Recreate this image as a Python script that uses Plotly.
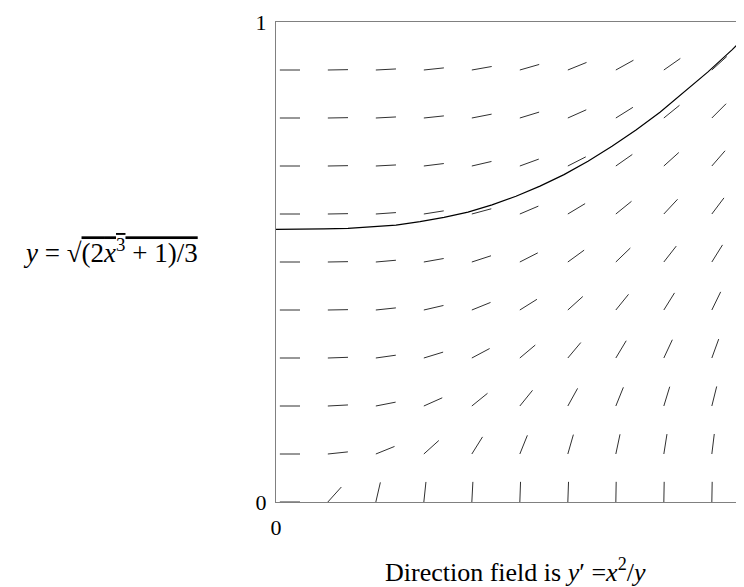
import math
import plotly.graph_objects as go

# grid of direction-field segments (start points)
grid_x = [0.008, 0.108, 0.208, 0.308, 0.408, 0.508, 0.608, 0.708, 0.808, 0.908]
grid_y = [0.0, 0.1, 0.2, 0.3, 0.4, 0.5, 0.6, 0.7, 0.8, 0.9]

# segment angles in degrees, one row per grid_y value
seg_angles = [
    [0, 48, 77, 84, 87, 88, 88, 89, 89, 89],
    [0, 6, 22, 42, 58, 68, 74, 78, 81, 83],
    [0, 3, 11, 24, 39, 51, 61, 68, 73, 76],
    [0, 2, 8, 17, 28, 40, 50, 59, 65, 70],
    [0, 1, 6, 13, 22, 32, 42, 51, 58, 64],
    [0, 1, 5, 10, 18, 27, 36, 44, 52, 58],
    [0, 1, 4, 9, 15, 23, 31, 39, 47, 53],
    [0, 1, 3, 7, 13, 20, 27, 35, 42, 49],
    [0, 1, 3, 6, 11, 17, 24, 32, 39, 45],
    [0, 1, 3, 6, 10, 16, 22, 29, 35, 42],
]

# solution curve y = sqrt((2x^3+1)/3)
curve_x = [0, 0.05, 0.1, 0.15, 0.2, 0.25, 0.3, 0.35, 0.4, 0.45, 0.5,
           0.55, 0.6, 0.65, 0.7, 0.75, 0.8, 0.85, 0.9, 0.95, 1.0]
curve_y = [0.568, 0.568, 0.569, 0.570, 0.573, 0.577, 0.584, 0.593, 0.604, 0.619, 0.637,
           0.658, 0.682, 0.710, 0.741, 0.775, 0.812, 0.853, 0.896, 0.942, 0.991]

seg_len = 0.042
serif = "Liberation Serif, Times New Roman, serif"

# build the little slope segments as one trace with gaps
sx, sy = [], []
for j, y0 in enumerate(grid_y):
    for i, x0 in enumerate(grid_x):
        a = math.radians(seg_angles[j][i])
        sx += [x0, x0 + seg_len * math.cos(a), None]
        sy += [y0, y0 + seg_len * math.sin(a), None]

fig = go.Figure()
fig.add_trace(go.Scatter(x=sx, y=sy, mode='lines',
                         line=dict(color='#303030', width=1), hoverinfo='skip'))
fig.add_trace(go.Scatter(x=curve_x, y=curve_y, mode='lines',
                         line=dict(color='black', width=1.2), hoverinfo='skip'))

# y label on the left and caption underneath
fig.add_annotation(
    text="<i>y</i> = √<span style='text-decoration:overline'>(2<i>x</i><sup>3</sup> + 1)/3</span>",
    xref='paper', yref='paper', x=-0.536, y=0.522, xanchor='left', yanchor='middle',
    showarrow=False, font=dict(family=serif, size=27, color='black'))
fig.add_annotation(
    text="Direction field is <i>y</i>′ =<i>x</i><sup>2</sup>/<i>y</i>",
    xref='x', yref='paper', x=0.5, y=-0.143, xanchor='center', yanchor='middle',
    showarrow=False, font=dict(family=serif, size=26, color='black'))

fig.update_xaxes(range=[0, 0.9917], showgrid=False, zeroline=False,
                 showline=True, mirror=True, linecolor='#808080', linewidth=1,
                 tickvals=[0], ticktext=['0'], ticks='', ticklabelstandoff=6,
                 tickfont=dict(family=serif, size=22, color='black'))
fig.update_yaxes(range=[0, 1], showgrid=False, zeroline=False,
                 showline=True, linecolor='#808080', linewidth=1,
                 tickvals=[0, 1], ticktext=['0', '1'], ticks='', ticklabelstandoff=4,
                 tickfont=dict(family=serif, size=22, color='black'))

fig.update_layout(
    width=744, height=587,
    margin=dict(l=268, r=0, t=14, b=93),
    plot_bgcolor='white', paper_bgcolor='white',
    showlegend=False
)

fig.write_html("out.html")
